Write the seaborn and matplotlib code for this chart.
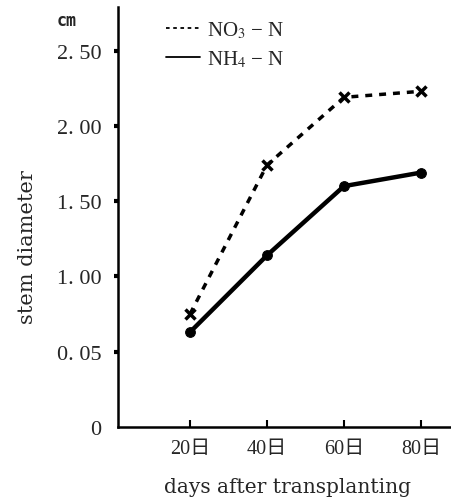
import pandas as pd
import matplotlib
matplotlib.use("Agg")
import matplotlib.pyplot as plt
import seaborn as sns

# valores
dias = [20, 40, 60, 80]
dia_labels = ["20日", "40日", "60日", "80日"]
no3 = [0.75, 1.74, 2.19, 2.23]
nh4 = [0.63, 1.14, 1.60, 1.69]
ytick_vals = [0, 0.5, 1.0, 1.5, 2.0, 2.5]
ytick_labels = ["0", "0. 05", "1. 00", "1. 50", "2. 00", "2. 50"]

sns.set_style("ticks")
plt.rcParams['font.family'] = ['Liberation Serif', 'Noto Sans CJK JP']
plt.rcParams['mathtext.fontset'] = 'stix'


def main():
    df_no3 = pd.DataFrame({'dia': dias, 'diam': no3})
    df_nh4 = pd.DataFrame({'dia': dias, 'diam': nh4})

    fig = plt.figure(figsize=(4.51, 5.02), dpi=100)
    ax = fig.add_axes([118 / 451, 1 - 428 / 502, 1 - 118 / 451, 420 / 502])

    sns.lineplot(data=df_no3, x='dia', y='diam', ax=ax, color='black',
                 linestyle=(0, (2, 2)), lw=2.5, marker='x', ms=7, mew=2.5,
                 mec='black', label=r'NO$_3$ − N')
    sns.lineplot(data=df_nh4, x='dia', y='diam', ax=ax, color='black',
                 linestyle='-', lw=3.2, marker='o', ms=7, mec='black',
                 mfc='black', label=r'NH$_4$ − N')

    ax.set_xlim(1.3, 87.8)
    ax.set_ylim(0, 2.79)
    ax.set_xticks(dias)
    ax.set_xticklabels(dia_labels, fontsize=14.5)
    ax.set_yticks(ytick_vals)
    ax.set_yticklabels(ytick_labels, fontsize=16)
    ax.yaxis.get_major_ticks()[0].tick1line.set_visible(False)

    ax.tick_params(axis='y', direction='out', length=3, width=3, pad=9, color='black')
    ax.tick_params(axis='x', direction='in', length=5, width=1.5, pad=9, color='black')

    sns.despine(ax=ax)
    for s in ['left', 'bottom']:
        ax.spines[s].set_linewidth(1.8)
        ax.spines[s].set_color('black')

    ax.set_xlabel('days after transplanting', fontsize=14.5, family='DejaVu Serif')
    ax.set_ylabel('stem diameter', fontsize=15, family='DejaVu Serif')
    ax.xaxis.set_label_coords(0.51, -0.118)
    ax.yaxis.set_label_coords(-0.243, 0.43)

    ax.legend(loc='upper left', bbox_to_anchor=(0.12, 0.99), frameon=False,
              fontsize=15, handlelength=1.6, handletextpad=0.35,
              labelspacing=0.4, borderaxespad=0)
    for h in ax.get_legend().get_lines():
        h.set_marker('')
        h.set_linewidth(1.3)

    fig.text(67 / 451, 1 - 21 / 502, 'cm', fontsize=12, fontweight='bold',
             family='DejaVu Sans Mono', ha='center', va='center')

    fig.savefig('out.png', dpi=100)
    plt.close(fig)


if __name__ == "__main__":
    main()
